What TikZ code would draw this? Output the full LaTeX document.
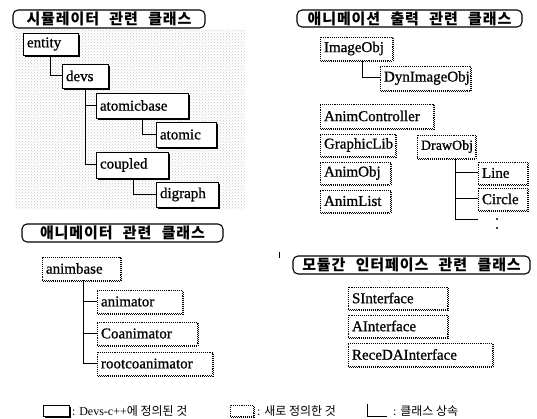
\documentclass[tikz,border=0pt]{standalone}
\usepackage{fontspec}
\setmainfont{Liberation Serif}
\newfontfamily\boxfont[FakeBold=0.8]{Liberation Serif}
\newfontfamily\kr{Noto Sans CJK KR}
\newfontfamily\krt[LetterSpace=6]{Noto Sans CJK KR}
\usetikzlibrary{shadows,patterns}
\begin{document}
\begin{tikzpicture}[x=1pt,y=-1pt,
  every node/.style={inner sep=0pt, outer sep=0pt},
  boxtext/.style={font=\boxfont\fontsize{15}{17}\selectfont, align=left, inner xsep=4pt, anchor=north west, fill=white},
  sbox/.style={boxtext, draw, line width=0.9pt,
    general shadow={shadow xshift=1.6pt, shadow yshift=-1.6pt, fill=black}},
  dbox/.style={boxtext, draw, densely dotted, line width=0.9pt,
    general shadow={shadow xshift=1.4pt, shadow yshift=-1.4pt, fill=white, draw=black, densely dotted, line width=1pt}},
  wh/.style 2 args={text width=#1, minimum height=#2},
  titlebox/.style={draw, line width=1.1pt, rounded corners=5pt, fill=white, anchor=north west,
    font=\krt\bfseries\fontsize{15}{17}\selectfont, align=center},
  link/.style={line width=1pt},
  legtext/.style={anchor=west, font=\fontsize{12}{14}\selectfont},
]
\useasboundingbox (0,0) rectangle (537,419);
% stippled background of simulator section
\path[pattern=crosshatch dots, pattern color=black!22] (15,30) rectangle (245,210);

% ---- titles
\node[titlebox, minimum width=192pt, minimum height=18pt] (t1) at (13,10) {시뮬레이터\hspace{6pt} 관련\hspace{6pt} 클래스};
\node[titlebox, minimum width=225pt, minimum height=17pt] (t2) at (297,10) {애니메이션\hspace{6pt} 출력\hspace{6pt} 관련\hspace{6pt} 클래스};
\node[titlebox, minimum width=201pt, minimum height=18pt] (t3) at (22,224) {애니메이터\hspace{6pt} 관련\hspace{6pt} 클래스};
\node[titlebox, minimum width=237pt, minimum height=18pt] (t4) at (293,256) {모듈간\hspace{6pt} 인터페이스\hspace{6pt} 관련\hspace{6pt} 클래스};
\coordinate (tick) at (279,252);
\draw[line width=0.6pt] (tick) -- ++(0,6);

% ---- simulator classes (Devs-c++)
\node[sbox, wh={47pt}{22pt}] (entity) at (23,33) {entity};
\node[sbox, wh={38pt}{24pt}] (devs) at (62,64) {devs};
\node[sbox, wh={84pt}{25pt}] (atomicbase) at (96,93) {atomicbase};
\node[sbox, wh={52pt}{25pt}] (atomic) at (156,122) {atomic};
\node[sbox, wh={64pt}{26pt}] (coupled) at (96,152) {coupled};
\node[sbox, wh={54pt}{25pt}] (digraph) at (156,182) {digraph};

\draw[link] (entity.south west) ++(27,0) |- (devs.west);
\draw[link] (devs.south west) ++(23,0) |- (atomicbase.west);
\draw[link] (devs.south west) ++(23,0) |- (coupled.west);
\draw[link] (atomicbase.south west) ++(46,0) |- (atomic.west);
\draw[link] (coupled.south west) ++(37,0) |- (digraph.west);

% ---- animation output classes
\node[dbox, wh={64pt}{23pt}] (imageobj) at (320,37) {ImageObj};
\node[dbox, wh={82pt}{24pt}] (dynimageobj) at (380,66) {DynImageObj};
\node[dbox, wh={105pt}{24pt}] (animcontroller) at (320,104) {AnimController};
\node[dbox, wh={67pt}{22pt}] (graphiclib) at (320,134) {GraphicLib};
\node[dbox, wh={50pt}{23pt}, font=\boxfont\fontsize{14}{16}\selectfont] (drawobj) at (417,135) {DrawObj};
\node[dbox, wh={62pt}{22pt}] (animobj) at (320,162) {AnimObj};
\node[dbox, wh={62pt}{22pt}] (animlist) at (320,190) {AnimList};
\node[dbox, wh={41pt}{22pt}] (line) at (478,162) {Line};
\node[dbox, wh={41pt}{22pt}] (circle) at (478,188) {Circle};
\coordinate (dcend) at (478,220);

\draw[link] (imageobj.south west) ++(42,0) |- (dynimageobj.west);
\draw[link] (drawobj.south west) ++(38,0) |- (line.west);
\draw[link] (drawobj.south west) ++(38,0) |- (circle.west);
\draw[link] (drawobj.south west) ++(38,0) |- (dcend);
\fill (497,219) circle (1.1pt);
\fill (497,228) circle (1.1pt);

% ---- animator classes
\node[dbox, wh={70pt}{23pt}] (animbase) at (42,257) {animbase};
\node[dbox, wh={77pt}{23pt}] (animator) at (97,290) {animator};
\node[dbox, wh={92pt}{23pt}] (coanimator) at (97,322) {Coanimator};
\node[dbox, wh={107pt}{23pt}] (rootcoanimator) at (97,352) {rootcoanimator};

\draw[link] (animbase.south west) ++(41,0) |- (animator.west);
\draw[link] (animbase.south west) ++(41,0) |- (coanimator.west);
\draw[link] (animbase.south west) ++(41,0) |- (rootcoanimator.west);

% ---- inter-module interface classes
\node[dbox, wh={91pt}{22pt}] (sinterface) at (348,287) {SInterface};
\node[dbox, wh={91pt}{22pt}] (ainterface) at (348,315) {AInterface};
\node[dbox, wh={136pt}{23pt}] (receda) at (348,343) {ReceDAInterface};

% ---- legend
\node[sbox, inner xsep=0pt, wh={26pt}{11pt}] (lga) at (43,405) {};
\node[legtext] (lgat) at (72,411) {: Devs-c++{\kr 에 정의된 것}};
\node[dbox, inner xsep=0pt, wh={23pt}{11pt}] (lgb) at (230,405) {};
\node[legtext] (lgbt) at (257,411) {: {\kr 새로 정의한 것}};
\coordinate (lgc) at (367,404);
\draw[link] (lgc) -- ++(0,12) -- ++(20,0);
\node[legtext] (lgct) at (393,411) {: {\kr 클래스 상속}};
\end{tikzpicture}
\end{document}
